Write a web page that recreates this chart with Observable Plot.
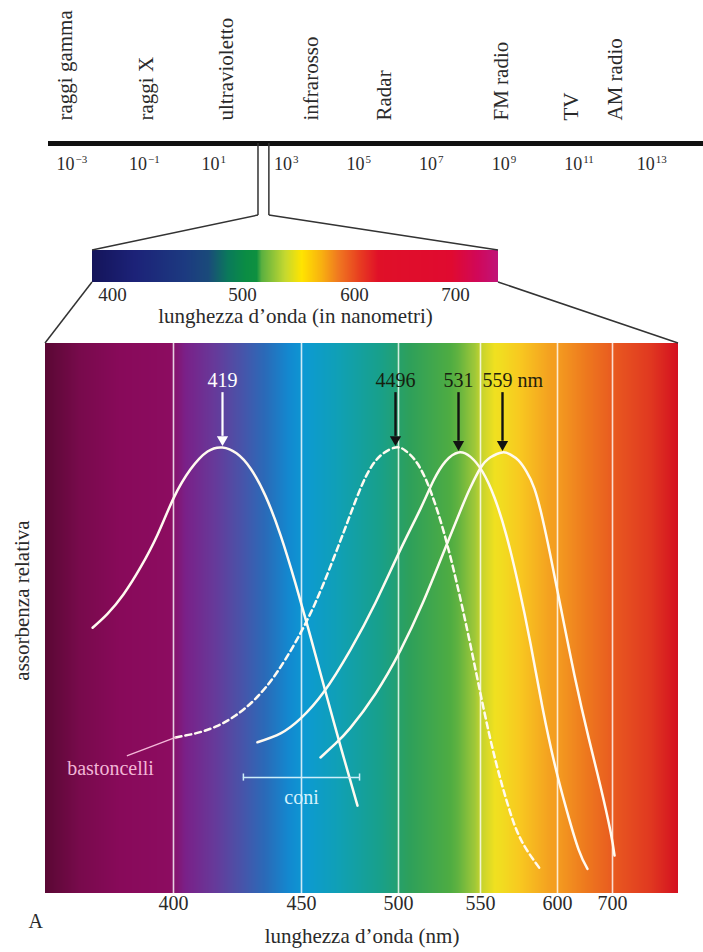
<!DOCTYPE html>
<html><head><meta charset="utf-8">
<script src="https://cdn.jsdelivr.net/npm/d3@7"></script>
<script src="https://cdn.jsdelivr.net/npm/@observablehq/plot@0.6"></script>
<style>
body{margin:0;background:#fff;}
#fig{position:relative;width:703px;height:952px;font-family:'Liberation Serif',serif;}
#fig svg{position:absolute;left:0;top:0;}
</style></head><body><div id="fig"></div>
<script>
// ---------------- data ----------------
const bandLabels = ["raggi gamma", "raggi X", "ultravioletto", "infrarosso", "Radar", "FM radio", "TV", "AM radio"];
const bandExp = [-3.0, -0.79, 1.44, 3.78, 5.77, 9.0, 10.95, 12.14];   // log10(nm)
const spectrumTickExp = [-3, -1, 1, 3, 5, 7, 9, 11, 13];
const visibleWindowExp = [2.13, 2.43];

const barTicks = [400, 500, 600, 700];
const panelTicks = [400, 450, 500, 550, 600, 700];

const peakNm = [419, 496, 531, 559];
const peakLabels = ["419", "4496", "531", "559 nm"];
const peakAbs = [1.0, 1.0, 0.989, 0.989];

// cono S (419)
const sNm  = [368.4, 374.2, 380.5, 387.1, 393.8, 400.0, 406.6, 413.2, 419.0, 424.5, 430.0, 435.9, 441.8, 447.6, 454.4, 461.7, 469.6, 477.4];
const sAbs = [0.596, 0.627, 0.671, 0.731, 0.805, 0.886, 0.951, 0.991, 1.000, 0.987, 0.953, 0.891, 0.803, 0.696, 0.576, 0.453, 0.322, 0.197];
// bastoncelli (496)
const rodNm  = [400.8, 408.5, 416.3, 424.1, 432.0, 439.8, 447.6, 456.9, 466.6, 474.0, 481.3, 488.7, 496.0, 503.6, 509.8, 516.5, 523.3, 530.0, 540.5, 550.8, 556.1, 563.5, 573.2, 587.3];
const rodAbs = [0.350, 0.359, 0.374, 0.399, 0.437, 0.491, 0.563, 0.653, 0.762, 0.851, 0.933, 0.982, 1.000, 0.993, 0.964, 0.903, 0.812, 0.698, 0.567, 0.427, 0.299, 0.194, 0.118, 0.054];
// cono M (531)
const mNm  = [432.7, 441.8, 449.6, 460.8, 474.0, 486.2, 501.0, 511.4, 518.1, 524.3, 531.0, 541.4, 550.8, 555.7, 562.0, 570.9, 579.9, 588.8, 597.8, 616.4, 638.2, 654.5];
const mAbs = [0.339, 0.359, 0.392, 0.451, 0.547, 0.652, 0.771, 0.863, 0.926, 0.969, 0.989, 0.979, 0.946, 0.888, 0.802, 0.691, 0.560, 0.417, 0.291, 0.188, 0.099, 0.055];
// cono L (559)
const lNm  = [459.3, 466.6, 474.0, 486.2, 501.0, 512.4, 523.3, 534.5, 541.4, 550.0, 554.1, 559.0, 565.0, 570.9, 576.9, 582.8, 588.8, 594.7, 605.5, 630.9, 656.4, 678.2, 696.4, 703.7];
const lAbs = [0.305, 0.336, 0.372, 0.448, 0.545, 0.650, 0.765, 0.870, 0.911, 0.954, 0.978, 0.989, 0.984, 0.971, 0.946, 0.908, 0.841, 0.758, 0.644, 0.489, 0.350, 0.240, 0.139, 0.085];

// annotations
const rodLeaderNm = [382.0, 400.8], rodLeaderAbs = [0.309, 0.350];
const rodLabel = [{nm: 375.4, abs: 0.280, text: "bastoncelli"}];
const coniBracketNm = [427.2, 478.4], coniBracketAbs = 0.260;
const coniLabel = [{nm: 450, abs: 0.215, text: "coni"}];

// colour stops (wavelength -> colour)
const barColorNm = [385, 417.7, 456.2, 474.1, 489.5, 502.7, 513.1, 517.6, 538.4, 553.3, 571.2, 586.0, 604.3, 624.1, 696.7, 722.8, 742];
const barColors = ["#14145a", "#1c2278", "#1c3a80", "#1a4a7a", "#0a7a5a", "#0a8c44", "#0e9040", "#5ab040", "#c4d830", "#ffe400", "#f8b010", "#f07820", "#e84020", "#e01028", "#e00a30", "#d0085a", "#c01478"];
const panelColorNm = [350, 363.7, 379.3, 398.8, 404.7, 416.3, 426.1, 435.9, 445.7, 452.0, 469.1, 488.7, 506.2, 526.9, 545.7, 556.1, 572.4, 594.8, 650.9, 705.5, 770.1, 820];
const panelColors = ["#5a0834", "#780a4c", "#880a5a", "#8c0c60", "#7a2088", "#663a9a", "#4a52a8", "#2a6ab8", "#128ad0", "#0c9ad2", "#10a0b4", "#18a08a", "#2ea05a", "#4eac42", "#a0c838", "#f0e020", "#f8c820", "#f4a020", "#ee7a1e", "#e85820", "#e03820", "#d41020"];

// ---------------- layout ----------------
const W = 703, H = 952;
const serif = "'Liberation Serif', 'Times New Roman', serif";
const lineY = 143, windowBottom = 215;
const barTop = 250, barBottom = 282;
const panelTop = 343, panelBottom = 893;
const yMax = 1.2332;
// the figure's wavelength axes are not linear: piecewise warps (nm -> 0..1 of the axis)
const barKnotNm = [385, 400, 500, 600, 700, 742];
const barKnotPos = [0, 20, 150, 262, 363, 406].map(v => v / 406);
const panelKnotNm = [350, 400, 419, 450, 496, 500, 531, 550, 559, 600, 700, 820];
const panelKnotPos = [0, 128, 177, 256, 350, 353, 413, 435, 457, 512, 567, 633].map(v => v / 633);
const barWarp = d3.scaleLinear(barKnotNm, barKnotPos);
const panelWarp = d3.scaleLinear(panelKnotNm, panelKnotPos);
const barPiece = d3.scaleLinear(barColorNm, barColors).interpolate(d3.interpolateRgb);
const panelPiece = d3.scaleLinear(panelColorNm, panelColors).interpolate(d3.interpolateRgb);

// gradient slices: evenly spaced along the drawn axis
const slices = (warp, n) => d3.range(n).map(k => ({
  a: warp.invert(k / n), b: warp.invert(Math.min(k + 1.6, n) / n), c: warp.invert((k + 0.5) / n)
}));

const fig = document.getElementById("fig");
const baseStyle = {background: "transparent", fontFamily: serif, color: "#222", overflow: "visible"};

// ---------------- main panel ----------------
const curve = (nm, ab) => nm.map((v, i) => ({nm: v, abs: ab[i]}));
const peaks = peakNm.map((v, i) => ({nm: v, abs: peakAbs[i], label: peakLabels[i]}));
const whitePeaks = peaks.slice(0, 1), darkPeaks = peaks.slice(1);
const curveStroke = "#fffaf0";
const pMin = panelKnotNm[0], pMax = panelKnotNm[panelKnotNm.length - 1];

const panelPlot = Plot.plot({
  width: W, height: H,
  marginLeft: 45, marginRight: W - 678,
  marginTop: panelTop, marginBottom: H - panelBottom,
  x: {transform: panelWarp, domain: [0, 1]},
  y: {domain: [0, yMax], axis: null},
  color: {type: "linear", domain: [pMin, pMax], interpolate: t => panelPiece(pMin + t * (pMax - pMin))},
  style: baseStyle,
  marks: [
    Plot.rect(slices(panelWarp, 633), {x1: "a", x2: "b", y1: 0, y2: yMax, fill: "c"}),
    Plot.gridX(panelTicks, {stroke: "#fff", strokeOpacity: 0.8, strokeWidth: 1.6}),
    Plot.axisX(panelTicks, {tickSize: 0, tickPadding: 2, fontSize: 20, label: null, fill: "#2a2a2a", tickFormat: d => String(d)}),
    Plot.line(curve(sNm, sAbs), {x: "nm", y: "abs", curve: "natural", stroke: curveStroke, strokeWidth: 2.5}),
    Plot.line(curve(rodNm, rodAbs), {x: "nm", y: "abs", curve: "natural", stroke: curveStroke, strokeWidth: 2.5, strokeDasharray: "6,4"}),
    Plot.line(curve(mNm, mAbs), {x: "nm", y: "abs", curve: "natural", stroke: curveStroke, strokeWidth: 2.5}),
    Plot.line(curve(lNm, lAbs), {x: "nm", y: "abs", curve: "natural", stroke: curveStroke, strokeWidth: 2.5}),
    // bastoncelli leader + label
    Plot.line(curve(rodLeaderNm, rodLeaderAbs), {x: "nm", y: "abs", stroke: "#f4b8d8", strokeWidth: 1.4}),
    Plot.text(rodLabel, {x: "nm", y: "abs", text: "text", fill: "#f2b6d6", fontSize: 20}),
    // coni bracket + label
    Plot.ruleY([coniBracketAbs], {x1: coniBracketNm[0], x2: coniBracketNm[1], stroke: "#cdeefa", strokeWidth: 1.5}),
    Plot.ruleX(coniBracketNm, {y1: coniBracketAbs - 0.008, y2: coniBracketAbs + 0.008, stroke: "#cdeefa", strokeWidth: 1.5}),
    Plot.text(coniLabel, {x: "nm", y: "abs", text: "text", fill: "#d6f2fc", fontSize: 20}),
    // peak arrows
    Plot.ruleX(whitePeaks, {x: "nm", y1: 1.123, y2: d => d.abs + 0.025, stroke: "#fff", strokeWidth: 2.2}),
    Plot.dot(whitePeaks, {x: "nm", y: d => d.abs + 0.018, symbol: "triangle", r: 4.2, rotate: 180, fill: "#fff", stroke: null}),
    Plot.ruleX(darkPeaks, {x: "nm", y1: 1.123, y2: d => d.abs + 0.025, stroke: "#121212", strokeWidth: 2.4}),
    Plot.dot(darkPeaks, {x: "nm", y: d => d.abs + 0.018, symbol: "triangle", r: 4.2, rotate: 180, fill: "#121212", stroke: null}),
    Plot.text(whitePeaks, {x: "nm", y: 1.150, text: "label", fill: "#fff", fontSize: 20}),
    Plot.text(darkPeaks.slice(0, 2), {x: "nm", y: 1.150, text: "label", fill: "#16200f", fontSize: 20}),
    Plot.text(darkPeaks.slice(2), {x: "nm", y: 1.150, text: "label", fill: "#24220c", fontSize: 20, textAnchor: "start", dx: -20}),
    // titles
    Plot.text(["assorbenza relativa"], {text: d => d, frameAnchor: "left", textAnchor: "middle", rotate: -90, dx: -23, dy: -18, fontSize: 21, fill: "#2a2a2a"}),
    Plot.text(["lunghezza d\u2019onda (nm)"], {text: d => d, frameAnchor: "bottom", dy: 49, fontSize: 21, fill: "#2a2a2a"}),
    Plot.text(["A"], {text: d => d, frameAnchor: "bottom-left", dx: -17, dy: 34, fontSize: 20, fill: "#2a2a2a"})
  ]
});
fig.append(panelPlot);

// ---------------- colour bar ----------------
const bMin = barKnotNm[0], bMax = barKnotNm[barKnotNm.length - 1];
const barPlot = Plot.plot({
  width: W, height: H,
  marginLeft: 92, marginRight: W - 498,
  marginTop: barTop, marginBottom: H - barBottom,
  x: {transform: barWarp, domain: [0, 1]},
  y: {domain: [0, 1], axis: null},
  color: {type: "linear", domain: [bMin, bMax], interpolate: t => barPiece(bMin + t * (bMax - bMin))},
  style: baseStyle,
  marks: [
    Plot.rect(slices(barWarp, 406), {x1: "a", x2: "b", y1: 0, y2: 1, fill: "c"}),
    Plot.axisX(barTicks, {tickSize: 0, tickPadding: 5, fontSize: 19, label: null, fill: "#2a2a2a", tickFormat: d => String(d)}),
    Plot.text(["lunghezza d\u2019onda (in nanometri)"], {text: d => d, frameAnchor: "bottom", dy: 40, fontSize: 21, fill: "#2a2a2a"})
  ]
});
fig.append(barPlot);

// ---------------- electromagnetic spectrum ----------------
const topPlot = Plot.plot({
  width: W, height: H,
  marginLeft: 48, marginRight: 0, marginTop: 0, marginBottom: H - lineY,
  x: {type: "log", domain: [10 ** -3.66, 10 ** 14.4], axis: null},
  y: {domain: [0, 1], axis: null},
  style: baseStyle,
  marks: [
    Plot.ruleY([0], {stroke: "#111", strokeWidth: 5}),
    Plot.text(bandLabels, {x: (d, i) => 10 ** bandExp[i], text: d => d, frameAnchor: "bottom", rotate: -90, textAnchor: "start", dy: -23, fontSize: 21, fill: "#2a2a2a"}),
    Plot.text(spectrumTickExp, {x: e => 10 ** e, text: () => "10", frameAnchor: "bottom", textAnchor: "end", dx: 2, dy: 26, fontSize: 18, fill: "#2a2a2a"}),
    Plot.text(spectrumTickExp, {x: e => 10 ** e, text: e => (e < 0 ? "\u2212" : "") + Math.abs(e), frameAnchor: "bottom", textAnchor: "start", dx: 3, dy: 19, fontSize: 11, fill: "#2a2a2a"})
  ]
});
fig.append(topPlot);

// ---------------- connectors (positions from the scales) ----------------
const xa = topPlot.scale("x"), ya = topPlot.scale("y");
const xb = barPlot.scale("x"), yb = barPlot.scale("y");
const xc = panelPlot.scale("x"), yc = panelPlot.scale("y");
const w0 = xa.apply(10 ** visibleWindowExp[0]), w1 = xa.apply(10 ** visibleWindowExp[1]);
const ly = ya.apply(0);
const bl = xb.apply(0), br = xb.apply(1);
const bt = yb.apply(1), bb = yb.apply(0);
const pl = xc.apply(0), pr = xc.apply(1);
const pt = yc.apply(yMax);
const segs = [
  [w0, ly, w0, windowBottom], [w1, ly, w1, windowBottom],
  [w0, windowBottom, bl, bt], [w1, windowBottom, br, bt],
  [bl, bb, pl, pt], [br, bb, pr, pt]
];
const ov = d3.create("svg").attr("width", W).attr("height", H);
ov.selectAll("line").data(segs).join("line")
  .attr("x1", d => d[0]).attr("y1", d => d[1]).attr("x2", d => d[2]).attr("y2", d => d[3])
  .attr("stroke", "#333").attr("stroke-width", 1.5);
fig.append(ov.node());
</script></body></html>
